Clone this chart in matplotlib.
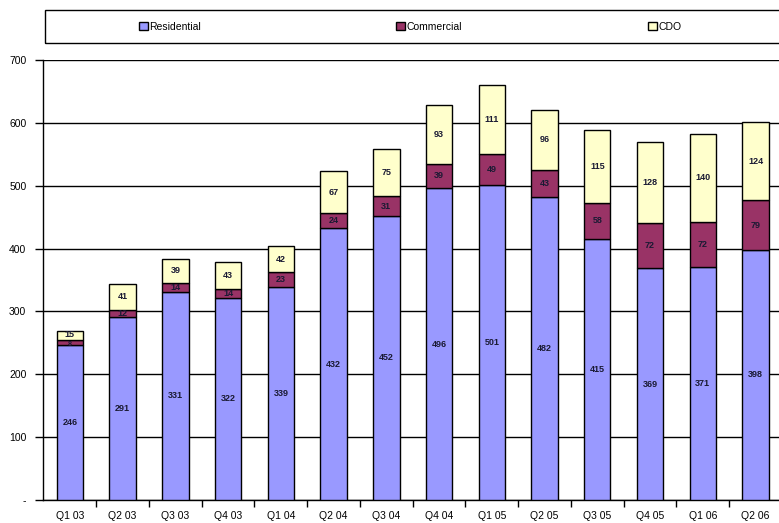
#! /usr/bin/env python3

import matplotlib.pyplot as plt
import numpy as np
from matplotlib.patches import Rectangle

plt.rcParams['font.family'] = ['Liberation Sans', 'DejaVu Sans']

quarters = ["Q1 03", "Q2 03", "Q3 03", "Q4 03", "Q1 04", "Q2 04", "Q3 04",
            "Q4 04", "Q1 05", "Q2 05", "Q3 05", "Q4 05", "Q1 06", "Q2 06"]
residential = [246, 291, 331, 322, 339, 432, 452, 496, 501, 482, 415, 369, 371, 398]
commercial = [8, 12, 14, 14, 23, 24, 31, 39, 49, 43, 58, 72, 72, 79]
cdo = [15, 41, 39, 43, 42, 67, 75, 93, 111, 96, 115, 128, 140, 124]

names = ["Residential", "Commercial", "CDO"]
colors = ["#9999ff", "#993366", "#ffffcc"]

fig = plt.figure(figsize=(7.79, 5.23), dpi=100)
ax = fig.add_axes([43 / 779, 23 / 523, 760 / 779, 440 / 523])

x = np.arange(len(quarters))
bottom = np.zeros(len(quarters))
bars = []
for k, (vals, name, col) in enumerate(zip([residential, commercial, cdo], names, colors)):
    vals = np.array(vals)
    b = ax.bar(x, vals, 0.5, bottom=bottom, color=col, edgecolor="black",
               linewidth=1.0, label=name, zorder=3)
    bars.append(b)
    for xi, v, b0 in zip(x, vals, bottom):
        y = b0 + v / 2
        size = 6.5
        # thin segments get a smaller label, nudged apart from the neighbour
        if v < 10:
            size, y = 5, y - 2
        elif v < 20 and k == 2:
            y = y + 2
        ax.text(xi, y, str(v), ha="center", va="center",
                fontsize=size, fontweight="bold", color="#1a1a33", zorder=4)
    bottom = bottom + vals

ax.set_xlim(-0.51, 13.9)
ax.set_ylim(0, 700)
ax.set_yticks(range(0, 701, 100))
ax.set_yticklabels(["-"] + [str(v) for v in range(100, 701, 100)], fontsize=7.5)
ax.set_xticks(x)
ax.set_xticklabels(quarters, fontsize=7.5)
ax.set_xticks(x[:-1] + 0.5, minor=True)
ax.tick_params(axis="x", which="major", length=0, pad=8)
ax.tick_params(axis="x", which="minor", length=5, direction="out", width=1)
ax.tick_params(axis="y", length=6, direction="out", width=1, pad=6)
ax.yaxis.grid(True, color="black", linewidth=1.0, zorder=0)
ax.set_axisbelow(True)
for s in ["top", "right"]:
    ax.spines[s].set_visible(False)
for s in ["left", "bottom"]:
    ax.spines[s].set_linewidth(1.0)

# legend strip above the plot
fig.patches.append(Rectangle((45 / 779, 1 - 43 / 523), 800 / 779, 33 / 523,
                             transform=fig.transFigure, fill=False,
                             edgecolor="black", linewidth=1.0))
for b, name, xpos in zip(bars, names, [134 / 779, 391 / 779, 643 / 779]):
    fig.legend([b], [name], loc="center left", bbox_to_anchor=(xpos, 1 - 26.5 / 523),
               frameon=False, fontsize=7.5, handlelength=0.8, handleheight=0.8,
               handletextpad=0.2, borderpad=0)

fig.savefig("out.png", dpi=100)
